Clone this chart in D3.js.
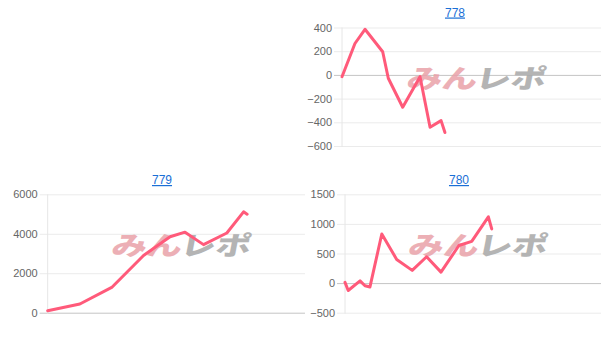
<!DOCTYPE html>
<html>
<head>
<meta charset="utf-8">
<script src="https://cdn.jsdelivr.net/npm/d3@7"></script>
<style>
  body { margin: 0; background: #fff; }
  svg { display: block; }
  .tick text { font-family: "Liberation Sans", Arial, sans-serif; font-size: 11px; fill: #666; }
  .title { font-family: "Liberation Sans", Arial, sans-serif; font-size: 12px; fill: #1a6fd6; text-decoration: underline; }
</style>
</head>
<body>
<svg id="chart" width="607" height="344"></svg>
<script>
// game counts (x) and medal difference (y) per machine
var games778 = [0, 400, 710, 1257, 1430, 1875, 2410, 2720, 3060, 3180];
var diff778 = [-15, 265, 385, 195, -28, -273, -15, -442, -386, -486];
var ticks778 = [400, 200, 0, -200, -400, -600];

var games779 = [0, 1000, 1990, 2980, 3805, 4270, 4845, 5570, 6090, 6200];
var diff779 = [100, 440, 1280, 2900, 3850, 4080, 3450, 4040, 5110, 4990];
var ticks779 = [6000, 4000, 2000, 0];

var games780 = [0, 100, 470, 625, 780, 1150, 1615, 2100, 2550, 3000, 3560, 3960, 4480, 4585];
var diff780 = [12, -125, 38, -45, -65, 830, 400, 215, 445, 185, 635, 705, 1120, 915];
var ticks780 = [1500, 1000, 500, 0, -500];

var svg = d3.select("#chart");

function drawchart(name, box, games, diffs, ticks) {
  var w = box.right - box.left;
  var h = box.bottom - box.top;

  var x = d3.scaleLinear().domain([0, 8000]).range([0, w]);
  var y = d3.scaleLinear().domain(d3.extent(ticks)).range([h, 0]);

  var g = svg.append("g")
    .attr("transform", "translate(" + box.left + "," + box.top + ")");

  var axis = g.append("g")
    .call(d3.axisLeft(y).tickValues(ticks).tickFormat(d3.format("d")).tickSize(-w).tickPadding(10));
  axis.select(".domain").remove();
  axis.selectAll(".tick line")
    .attr("x1", -8)
    .attr("stroke", function(d) { return d == 0 ? "#c4c4c4" : "#ebebeb"; });

  g.append("line")
    .attr("x1", 0).attr("x2", 0)
    .attr("y1", 0).attr("y2", h + 1)
    .attr("stroke", "#e6e6e6");

  // watermark
  var wm = g.append("g")
    .attr("transform", "translate(" + (w / 2 + 3) + "," + (h / 2 + 1) + ") scale(1.35,1) skewX(-8)")
    .attr("font-family", "'Noto Sans CJK JP', sans-serif")
    .attr("font-weight", 900)
    .attr("font-size", 26)
    .attr("text-anchor", "middle");
  wm.append("text").attr("x", -25).attr("fill", "#e9a2a9").attr("opacity", 0.85).text("みん");
  wm.append("text").attr("x", 26).attr("fill", "#a8a8a8").attr("opacity", 0.85).text("レポ");

  var pts = games.map(function(d, i) { return [d, diffs[i]]; });
  g.append("path")
    .datum(pts)
    .attr("fill", "none")
    .attr("stroke", "#ff5a7a")
    .attr("stroke-width", 3)
    .attr("stroke-linejoin", "round")
    .attr("stroke-linecap", "round")
    .attr("d", d3.line()
      .x(function(d) { return x(d[0]); })
      .y(function(d) { return y(d[1]); }));

  svg.append("text")
    .attr("class", "title")
    .attr("x", box.title[0])
    .attr("y", box.title[1])
    .attr("text-anchor", "middle")
    .text(name);
}

drawchart("778", { left: 342, right: 601, top: 27.5, bottom: 146, title: [455, 16.5] }, games778, diff778, ticks778);
drawchart("779", { left: 47.7, right: 305, top: 194.3, bottom: 312.7, title: [162, 184] }, games779, diff779, ticks779);
drawchart("780", { left: 345, right: 601, top: 194.3, bottom: 312.7, title: [459, 184] }, games780, diff780, ticks780);
</script>
</body>
</html>
